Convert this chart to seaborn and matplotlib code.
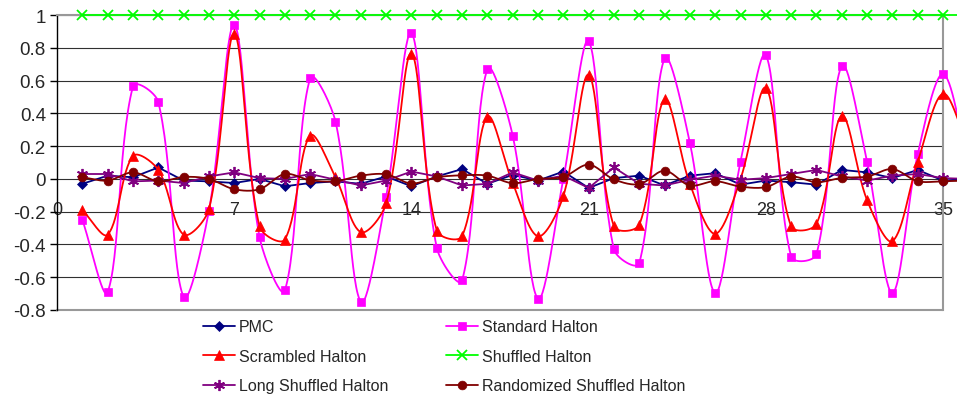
import numpy as np
import pandas as pd
import matplotlib
matplotlib.use("Agg")
import matplotlib.pyplot as plt
from matplotlib.lines import Line2D
import seaborn as sns

# sample index (the last point lies just past the axis end)
steps = list(range(1, 37))

pmc = [-0.03, 0.02, 0.01, 0.07, -0.01, -0.015, -0.025, 0.0, -0.045, -0.025,
       -0.015, -0.03, 0.015, -0.045, 0.015, 0.06, -0.03, 0.025, -0.01, 0.045,
       -0.055, 0.005, 0.02, -0.04, 0.02, 0.035, -0.035, -0.01, -0.02, -0.035,
       0.055, 0.04, 0.005, 0.055, -0.01, 0.0]
standard_halton = [-0.25, -0.69, 0.565, 0.47, -0.72, -0.195, 0.94, -0.355, -0.68, 0.615,
                   0.35, -0.75, -0.11, 0.89, -0.42, -0.62, 0.67, 0.265, -0.73, 0.0,
                   0.84, -0.43, -0.515, 0.735, 0.22, -0.695, 0.105, 0.755, -0.475, -0.46,
                   0.69, 0.105, -0.695, 0.15, 0.64, 0.1]
scrambled_halton = [-0.19, -0.34, 0.14, 0.055, -0.34, -0.185, 0.885, -0.29, -0.37, 0.265,
                    0.01, -0.325, -0.15, 0.765, -0.315, -0.35, 0.38, -0.025, -0.35, -0.105,
                    0.635, -0.29, -0.28, 0.485, -0.03, -0.335, 0.0, 0.555, -0.29, -0.275,
                    0.385, -0.13, -0.38, 0.105, 0.52, 0.2]
shuffled_halton = [1.0] * 36
long_shuffled_halton = [0.03, 0.03, -0.015, -0.01, -0.025, 0.015, 0.04, 0.005, 0.0, 0.03,
                        -0.005, -0.04, -0.01, 0.045, 0.015, -0.04, -0.03, 0.04, -0.01, 0.02,
                        -0.055, 0.07, -0.03, -0.04, -0.005, 0.02, -0.005, 0.005, 0.03, 0.055,
                        0.015, -0.01, 0.02, 0.03, 0.005, 0.0]
randomized_shuffled_halton = [0.01, -0.01, 0.04, -0.015, 0.012, 0.0, -0.063, -0.063, 0.03, -0.008,
                              -0.014, 0.02, 0.028, -0.028, 0.01, 0.022, 0.02, -0.026, 0.0, 0.012,
                              0.087, -0.003, -0.032, 0.05, -0.04, -0.014, -0.047, -0.05, 0.014, -0.02,
                              0.006, 0.014, 0.06, -0.014, -0.014, -0.01]

x_ticks = [0, 7, 14, 21, 28, 35]
y_ticks = [-0.8, -0.6, -0.4, -0.2, 0, 0.2, 0.4, 0.6, 0.8, 1]


def smooth_curve(x, y, sx=25.2, sy=164.0, n=30):
    """Excel-style smoothed line: Bezier segments whose control points are
    scaled by chord length, worked out in screen units (sx, sy px per unit)"""
    P = np.column_stack([np.asarray(x, float) * sx, np.asarray(y, float) * sy])
    t = np.linspace(0, 1, n, endpoint=False)[:, None]
    parts = []
    for i in range(len(P) - 1):
        p1, p2 = P[i], P[i + 1]
        p0 = P[i - 1] if i > 0 else p1
        p3 = P[i + 2] if i + 2 < len(P) else p2
        d01 = np.hypot(*(p1 - p0))
        d12 = np.hypot(*(p2 - p1))
        d23 = np.hypot(*(p3 - p2))
        c1 = p1 + (p2 - p0) * (d12 / (d01 + d12)) / 3
        c2 = p2 - (p3 - p1) * (d12 / (d12 + d23)) / 3
        parts.append((1 - t) ** 3 * p1 + 3 * (1 - t) ** 2 * t * c1
                     + 3 * (1 - t) * t ** 2 * c2 + t ** 3 * p2)
    parts.append(P[-1:])
    curve = np.vstack(parts)
    return curve[:, 0] / sx, curve[:, 1] / sy


series = [
    # label, values, colour, marker, size, smoothed
    ("PMC", pmc, "#000080", "D", 5.5, False),
    ("Standard Halton", standard_halton, "#FF00FF", "s", 6.3, True),
    ("Scrambled Halton", scrambled_halton, "#FF0000", "^", 7.5, True),
    ("Shuffled Halton", shuffled_halton, "#00FF00", "x", 6.5, False),
    ("Long Shuffled Halton", long_shuffled_halton, "#800080", (6, 2, 0), 8, False),
    ("Randomized Shuffled Halton", randomized_shuffled_halton, "#800000", "o", 6.3, True),
]

sns.set_style("white")
plt.rcParams["font.family"] = ["Liberation Sans", "DejaVu Sans"]

fig = plt.figure(figsize=(9.57, 4.02), dpi=100)
ax = fig.add_axes([0.0596, 0.2264, 0.9258, 0.7336])

for i, (label, vals, color, marker, ms, smooth) in enumerate(series):
    if smooth:
        cx, cy = smooth_curve(steps, vals)
    else:
        cx, cy = np.asarray(steps, float), np.asarray(vals, float)
    ax.plot(cx, cy, color=color, lw=1.3, clip_on=False, zorder=3 + i)
    df = pd.DataFrame({"step": steps, "value": vals})
    mew = 1.3 if marker in ("x", (6, 2, 0)) else 0.5
    ax.plot(df["step"], df["value"], ls="none", marker=marker, ms=ms,
            color=color, mec=color, mew=mew, clip_on=False, zorder=3 + i)

ax.set_xlim(0, 35)
ax.set_ylim(-0.8, 1.0)
ax.set_yticks(y_ticks)
ax.set_yticklabels([f"{v:g}" for v in y_ticks])
ax.set_xticks(x_ticks)
ax.set_xticklabels([str(v) for v in x_ticks])

ax.grid(axis="y", color="#303030", lw=0.8)
ax.set_axisbelow(True)

ax.spines["bottom"].set_position(("data", 0))
ax.spines["bottom"].set_visible(False)
ax.spines["left"].set_color("black")
ax.spines["left"].set_linewidth(1.0)
for side in ("right", "top"):
    ax.spines[side].set_color("#999999")
    ax.spines[side].set_linewidth(1.5)
ax.axhline(-0.8, color="#999999", lw=1.5, clip_on=False, zorder=1)

ax.tick_params(axis="y", left=True, length=5, width=1, color="black",
               labelsize=13.5, pad=3)
ax.tick_params(axis="x", bottom=False, length=0, labelsize=13, pad=16)

# legend laid out row by row in two columns
order = [0, 2, 4, 1, 3, 5]
handles = []
for j in order:
    label, vals, color, marker, ms, smooth = series[j]
    mew = 1.3 if marker in ("x", (6, 2, 0)) else 0.5
    handles.append(Line2D([], [], color=color, lw=1.3, marker=marker, ms=ms,
                          mec=color, mew=mew, label=label))
fig.legend(handles=handles, ncol=2, loc="upper left",
           bbox_to_anchor=(0.212, 0.203), frameon=False, fontsize=11.5,
           handlelength=2.0, handletextpad=0.25, columnspacing=3.6,
           labelspacing=0.9, borderpad=0, borderaxespad=0)

fig.savefig("out.png", dpi=100)
